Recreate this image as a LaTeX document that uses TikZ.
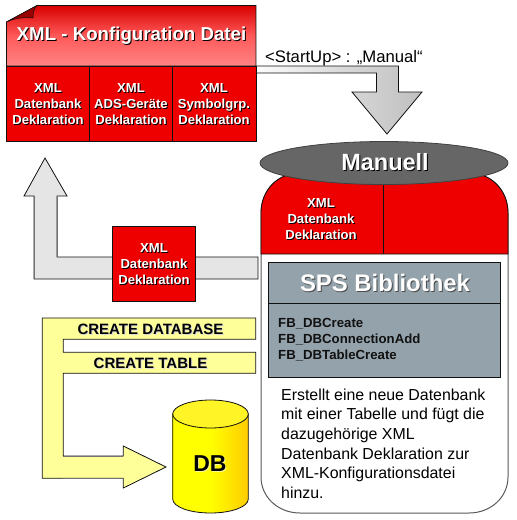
\documentclass[tikz,border=0pt]{standalone}
\usepackage{fontspec}
\setmainfont{Liberation Sans}
\definecolor{xred}{HTML}{EE0000}
\definecolor{xdark}{HTML}{111111}
\definecolor{xyel}{HTML}{FFFF99}
\definecolor{xgray}{HTML}{94A3AB}
\definecolor{xorange}{HTML}{FFCC00}
\newcommand{\shd}[2]{\leavevmode\rlap{\raisebox{-1pt}{\kern1pt\textcolor{#1}{#2}}}#2}
\newcommand{\wb}[1]{\shd{black}{#1}}
\newcommand{\by}[1]{\shd{white!70!gray}{#1}}
\tikzset{
  redcell/.style={draw=xdark,line width=.8pt,fill=xred,minimum height=0pt,inner sep=0pt},
  celltext/.style={text=white,align=center,font=\bfseries\fontsize{13.1}{16}\selectfont,inner sep=0pt},
  bigtext/.style={text=white,font=\bfseries,inner sep=0pt},
  blockline/.style={draw=xdark,line width=.8pt,line join=miter},
  bartext/.style={text=black,font=\bfseries\fontsize{15}{16}\selectfont,inner sep=0pt},
}
\begin{document}
\begin{tikzpicture}[x=1pt,y=-1pt]
\useasboundingbox (0,0) rectangle (517,520);
% grey arrow from file to Manuell
\path[blockline,left color=white,right color=black!25,middle color=black!14]
  (250,66) -- (398.5,66) -- (398.5,92) -- (422,92) -- (387,134) -- (352,92) -- (376.5,92) -- (376.5,73) -- (250,73) -- cycle;
% body
\path[draw=black!65,line width=1pt,fill=white]
  (261,213) .. controls (261,190) and (278,173) .. (300,173) -- (469,173)
  .. controls (491,173) and (508,190) .. (508,213) -- (508,477)
  .. controls (508,497) and (491,513) .. (469,513) -- (300,513)
  .. controls (278,513) and (261,497) .. (261,477) -- cycle;
\path[draw=xdark,line width=.8pt,fill=xred]
  (261,254) -- (261,213) .. controls (261,190) and (278,173) .. (300,173) -- (469,173)
  .. controls (491,173) and (508,190) .. (508,213) -- (508,254) -- cycle;
\draw[xdark,line width=.8pt] (383.5,175) -- (383.5,254);
\node[celltext] (bodycell) at (321,220) {\wb{XML}\\\wb{Datenbank}\\\wb{Deklaration}};
% ellipse
\path[draw=black!75,line width=.8pt,fill=black!60] (384,163) ellipse [x radius=124,y radius=21.5];
\node[bigtext,font=\bfseries\fontsize{23.5}{24}\selectfont] (manuell) at (385,163) {\wb{Manuell}};
% file title
\path[draw=xdark,line width=.8pt,top color=red!85!black,bottom color=red!48!white,middle color=red!65!white]
  (6.5,22) -- (37,5.5) -- (256,5.5) -- (256,66) -- (6.5,66) -- cycle;
\path[draw=xdark,line width=.5pt,fill=red!60!black]
  (6.5,22) -- (37,5.5) .. controls (33,10) and (33,14) .. (33,18) .. controls (24,17) and (15,18) .. (6.5,22) -- cycle;
\node[bigtext,font=\bfseries\fontsize{18.7}{22}\selectfont] (title) at (131.5,36) {\wb{XML - Konfiguration Datei}};
% cells
\path[redcell] (6.5,66) rectangle (89.5,141);
\path[redcell] (89.5,66) rectangle (172.5,141);
\path[redcell] (172.5,66) rectangle (256,141);
\node[celltext] (c1) at (48,105) {\wb{XML}\\\wb{Datenbank}\\\wb{Deklaration}};
\node[celltext] (c2) at (131,105) {\wb{XML}\\\wb{ADS-Geräte}\\\wb{Deklaration}};
\node[celltext] (c3) at (214,105) {\wb{XML}\\\wb{Symbolgrp.}\\\wb{Deklaration}};
\node[font=\fontsize{16.7}{18}\selectfont,inner sep=0pt,anchor=base west] (startup) at (265,62) {<StartUp> : „Manual“};
% left arrow
\path[blockline,fill=black!10]
  (258,257) -- (57,257) -- (57,196) -- (67,196) -- (45,158) -- (24,196) -- (34,196) -- (34,279) -- (258,279) -- cycle;
\draw[black!55,line width=1pt] (57,196) -- (57,257) (34,196) -- (34,278);
\path[redcell] (112.5,226.5) rectangle (195.5,301);
\node[celltext] (c4) at (154,265) {\wb{XML}\\\wb{Datenbank}\\\wb{Deklaration}};
% yellow arrow
\path[blockline,fill=xyel]
  (255.7,318) -- (42.3,318) -- (42.3,478.3) -- (123.3,478.3) -- (123.3,488) -- (166,467) -- (123.3,446) -- (123.3,456) -- (63.3,456)
  -- (63.3,373.3) -- (255.7,373.3) -- (255.7,352.3) -- (63.3,352.3) -- (63.3,339.3) -- (255.7,339.3) -- cycle;
\draw[black!55,line width=1pt] (63.3,456) -- (123.3,456) (63.3,478.3) -- (123.3,478.3);
\node[bartext] (createdb) at (150.5,329.5) {\by{CREATE DATABASE}};
\node[bartext] (createtb) at (150.5,364) {\by{CREATE TABLE}};
% cylinder
\path[draw=xdark,line width=.8pt,left color=yellow,right color=xorange,middle color=yellow]
  (172.7,414) -- (172.7,499) .. controls (172.7,507) and (190,513) .. (210.5,513) .. controls (231,513) and (248.3,507) .. (248.3,499) -- (248.3,414) -- cycle;
\path[draw=xdark,line width=.8pt,fill=yellow!85!white] (210.5,414) ellipse [x radius=37.8,y radius=14];
\node[bigtext,text=black,font=\bfseries\fontsize{23}{24}\selectfont] (db) at (210,464) {\shd{white!60!yellow}{DB}};
% SPS box
\path[draw=xdark,line width=.8pt,fill=xgray] (268.5,262) rectangle (500.5,377);
\draw[xdark,line width=.8pt] (268.5,303) -- (500.5,303);
\node[bigtext,font=\bfseries\fontsize{23.9}{24}\selectfont] (sps) at (385,283) {\shd{black!70}{SPS Bibliothek}};
\node[anchor=north west,inner sep=0pt,align=left,font=\bfseries\fontsize{13.2}{16}\selectfont,text=xdark] (fb) at (278,318.5) {FB\_DBCreate\\FB\_DBConnectionAdd\\FB\_DBTableCreate};
\node[anchor=north west,inner sep=0pt,align=left,font=\fontsize{15.9}{19.6}\selectfont] (desc) at (281,388.5) {Erstellt eine neue Datenbank\\mit einer Tabelle und fügt die\\dazugehörige XML\\Datenbank Deklaration zur\\XML-Konfigurationsdatei\\hinzu.};
\end{tikzpicture}
\end{document}
